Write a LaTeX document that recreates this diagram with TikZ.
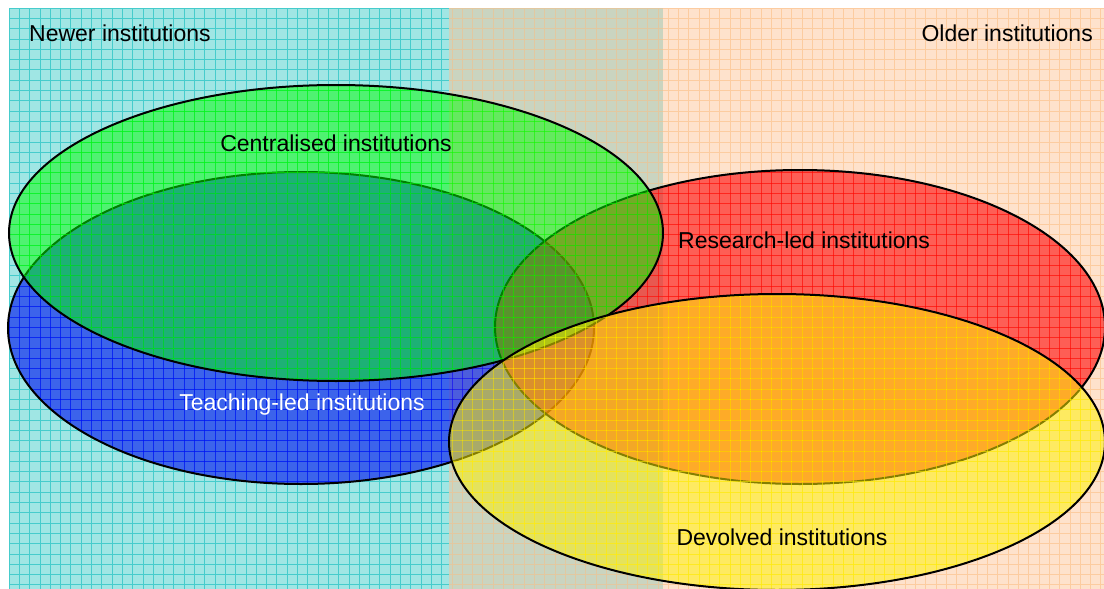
\documentclass[tikz,border=0pt]{standalone}
\usepackage{fontspec}
\setmainfont{Liberation Sans}
\definecolor{cyanbg}{RGB}{160,230,228}
\definecolor{cyanln}{RGB}{70,204,204}
\definecolor{orangebg}{RGB}{254,226,204}
\definecolor{orangeln}{RGB}{252,204,160}
\definecolor{midbg}{RGB}{202,212,192}
\definecolor{midln}{RGB}{226,200,160}
\definecolor{vblue}{RGB}{0,20,240}
\newcommand\mygrid[1]{%
  \foreach \i in {0,...,106} \draw[#1] ({9+10.3*\i},8) -- ({9+10.3*\i},589);
  \foreach \j in {0,...,56} \draw[#1] (9,{8+10.3*\j}) -- (1104,{8+10.3*\j});
}
\begin{document}
\begin{tikzpicture}[x=1pt,y=-1pt,
  lbl/.style={font=\fontsize{23}{26}\selectfont, inner sep=0pt},
  outline/.style={draw=black, line width=2pt},
  gridln/.style={line width=0.8pt, opacity=0.55},
]
\useasboundingbox (0,0) rectangle (1104,589);
% background bands
\fill[cyanbg] (9,8) rectangle (449,589);
\fill[midbg] (449,8) rectangle (663,589);
\fill[orangebg] (663,8) rectangle (1104,589);
\begin{scope}
  \clip (9,8) rectangle (449,589);
  \mygrid{cyanln, line width=0.7pt}
\end{scope}
\begin{scope}
  \clip (449,8) rectangle (663,589);
  \mygrid{midln, line width=0.7pt}
\end{scope}
\begin{scope}
  \clip (663,8) rectangle (1104,589);
  \mygrid{orangeln, line width=0.7pt}
\end{scope}
% Teaching-led (blue)
\fill[vblue, fill opacity=0.62] (301,328) ellipse [x radius=293, y radius=156];
\begin{scope}
  \clip (301,328) ellipse [x radius=293, y radius=156];
  \mygrid{blue, gridln}
\end{scope}
\draw[outline] (301,328) ellipse [x radius=293, y radius=156];
% Research-led (red)
\fill[red, fill opacity=0.58] (800,327) ellipse [x radius=305, y radius=157];
\begin{scope}
  \clip (800,327) ellipse [x radius=305, y radius=157];
  \mygrid{red, gridln}
\end{scope}
\draw[outline] (800,327) ellipse [x radius=305, y radius=157];
% Centralised (green)
\fill[green, fill opacity=0.5] (336,233) ellipse [x radius=327, y radius=148];
\begin{scope}
  \clip (336,233) ellipse [x radius=327, y radius=148];
  \mygrid{green, gridln}
\end{scope}
\draw[outline] (336,233) ellipse [x radius=327, y radius=148];
% Devolved (yellow)
\fill[yellow, fill opacity=0.52] (777,442) ellipse [x radius=328, y radius=148];
\begin{scope}
  \clip (777,442) ellipse [x radius=328, y radius=148];
  \mygrid{yellow, gridln}
\end{scope}
\draw[outline] (777,442) ellipse [x radius=328, y radius=148];
% labels
\node[lbl, anchor=west] (newer) at (29,33) {Newer institutions};
\node[lbl, anchor=east] (older) at (1093,33) {Older institutions};
\node[lbl] (central) at (336,143) {Centralised institutions};
\node[lbl, anchor=west] (research) at (678,240) {Research-led institutions};
\node[lbl, text=white] (teaching) at (302,405) {Teaching-led institutions};
\node[lbl] (devolved) at (782,537) {Devolved institutions};
\end{tikzpicture}
\end{document}
